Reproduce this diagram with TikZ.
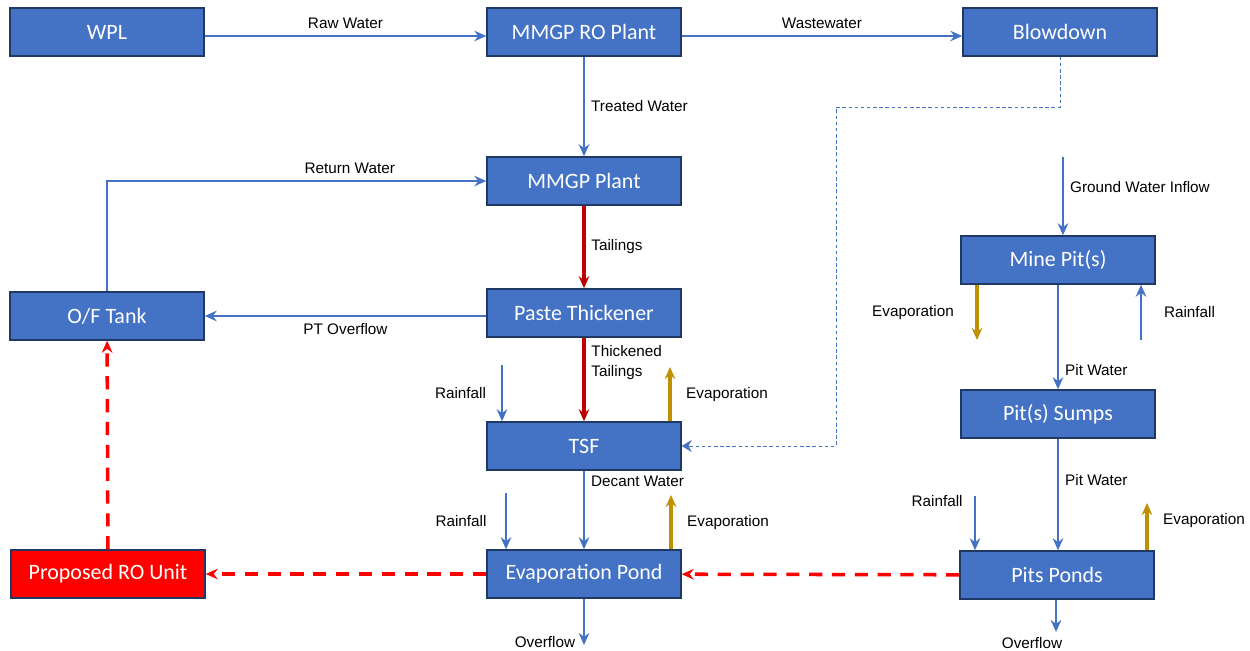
\documentclass[tikz,border=0pt]{standalone}
\usepackage{fontspec}
\setmainfont{Liberation Sans}
\newfontfamily\boxfont{Carlito}
\usetikzlibrary{arrows.meta,positioning}
\definecolor{boxblue}{HTML}{4472C4}
\definecolor{boxline}{HTML}{203864}
\definecolor{flowblue}{HTML}{4472C4}
\definecolor{tailred}{HTML}{C00000}
\definecolor{evapgold}{HTML}{BF9000}
\definecolor{propred}{HTML}{FF0000}

\begin{document}
\begin{tikzpicture}[
      x=0.02cm, y=-0.02cm,
      every node/.style={font=\fontsize{8.7}{11.3}\selectfont},
      unit/.style={draw=boxline,line width=0.8pt,fill=boxblue,text=white,
                   minimum width=3.88cm,minimum height=0.96cm,inner sep=0pt,
                   font=\boxfont\fontsize{12.5}{14}\selectfont},
      newunit/.style={unit,fill=propred},
      flow/.style={-{Stealth[length=2.4mm,width=2.1mm]},line width=1.5pt,draw=flowblue},
      tail/.style={flow,draw=tailred,line width=1.8pt},
      evap/.style={flow,draw=evapgold,line width=1.8pt},
      prop/.style={flow,draw=propred,line width=2pt,dash pattern=on 7.5pt off 5.5pt},
      bleed/.style={-{Stealth[length=2mm,width=2.4mm]},line width=0.5pt,draw=flowblue,
                    dash pattern=on 2pt off 1.5pt},
  ]
    \useasboundingbox (0,0) rectangle (1250,651);

    % process units
    \node[unit] (wpl) at (107,32) {WPL};
    \node[unit] (roplant) at (584,32) {MMGP RO Plant};
    \node[unit] (blowdown) at (1060,32) {Blowdown};
    \node[unit] (plant) at (584,181) {MMGP Plant};
    \node[unit] (oftank) at (107,316) {O/F Tank};
    \node[unit] (thick) at (584,313) {Paste Thickener};
    \node[unit] (tsf) at (584,446) {TSF};
    \node[unit] (pond) at (584,574) {Evaporation Pond};
    \node[newunit] (rounit) at (108,574) {Proposed RO Unit};
    \node[unit] (minepit) at (1058,260) {Mine Pit(s)};
    \node[unit] (sumps) at (1058,414) {Pit(s) Sumps};
    \node[unit] (pitponds) at (1057,575) {Pits Ponds};

    % free ends
    \coordinate (tsfrain) at (502,365);
    \coordinate (tsfevap) at (670,367);
    \coordinate (pondrain) at (506,493);
    \coordinate (pondevap) at (671,495);
    \coordinate (pondout) at (584,645);
    \coordinate (bdturn) at (836,107);
    \coordinate (gwin) at (1063,157);
    \coordinate (mpevap) at (977,340);
    \coordinate (mprain) at (1141,340);
    \coordinate (pprain) at (975,496);
    \coordinate (ppevap) at (1147,503);
    \coordinate (ppout) at (1056,632);

    % main water circuit
    \draw[flow] ([yshift=-0.08cm]wpl.east) -- node[above] (rawlbl) {Raw Water} ([yshift=-0.08cm]roplant.west);
    \draw[flow] ([yshift=-0.08cm]roplant.east) -- node[above] (wastelbl) {Wastewater} ([yshift=-0.08cm]blowdown.west);
    \draw[flow] (roplant) -- node[right] (treatlbl) {Treated Water} (plant);
    \draw[flow] (oftank.north) |- node[pos=0.82,above] (retlbl) {Return Water} (plant.west);
    \draw[tail] (plant) -- node[right] (taillbl) {Tailings} (thick);
    \draw[flow] (thick.west |- oftank) -- node[below] (ptlbl) {PT Overflow} (oftank);
    \draw[tail] (thick) -- node[right,pos=0.3,align=left] (ttlbl) {Thickened\\Tailings} (tsf);
    \draw[flow] (tsfrain) -- node[left=5pt] (tsfrainlbl) {Rainfall} (tsfrain |- tsf.north);
    \draw[evap] (tsfevap |- tsf.north) -- node[right=5pt] (tsfevaplbl) {Evaporation} (tsfevap);
    \draw[flow] (tsf) -- node[right,pos=0.13] (decantlbl) {Decant Water} (pond);
    \draw[flow] (pondrain) -- node[left=7pt] (pondrainlbl) {Rainfall} (pondrain |- pond.north);
    \draw[evap] (pondevap |- pond.north) -- node[right=5pt] (pondevaplbl) {Evaporation} (pondevap);
    \draw[flow] (pond) -- (pondout) node[left=1pt,yshift=0.05cm] (pondoutlbl) {Overflow};
    \draw[bleed] (blowdown.south) |- (bdturn) |- (tsf.east);

    % mine pits
    \draw[flow] (gwin) -- node[right,pos=0.39] (gwlbl) {Ground Water Inflow} (gwin |- minepit.north);
    \draw[evap] (mpevap |- minepit.south) -- node[left=9pt] (mpevaplbl) {Evaporation} (mpevap);
    \draw[flow] (mprain) -- node[right=9pt] (mprainlbl) {Rainfall} (mprain |- minepit.south);
    \draw[flow] (minepit) -- node[right,pos=0.82] (pw1lbl) {Pit Water} (sumps);
    \draw[flow] (sumps) -- node[right,pos=0.37] (pw2lbl) {Pit Water} (sumps.south |- pitponds.north);
    \draw[flow] (pprain) -- node[left=3pt,pos=0.1] (pprainlbl) {Rainfall} (pprain |- pitponds.north);
    \draw[evap] (ppevap |- pitponds.north) -- node[right=5pt,pos=0.63] (ppevaplbl) {Evaporation} (ppevap);
    \draw[flow] (ppout |- pitponds.south) -- (ppout) node[below=-1pt,xshift=-0.48cm] (ppoutlbl) {Overflow};

    % proposed route
    \draw[prop] (pitponds) -- (pond);
    \draw[prop] (pond) -- (rounit);
    \draw[prop] (rounit) -- (oftank);
\end{tikzpicture}
\end{document}
